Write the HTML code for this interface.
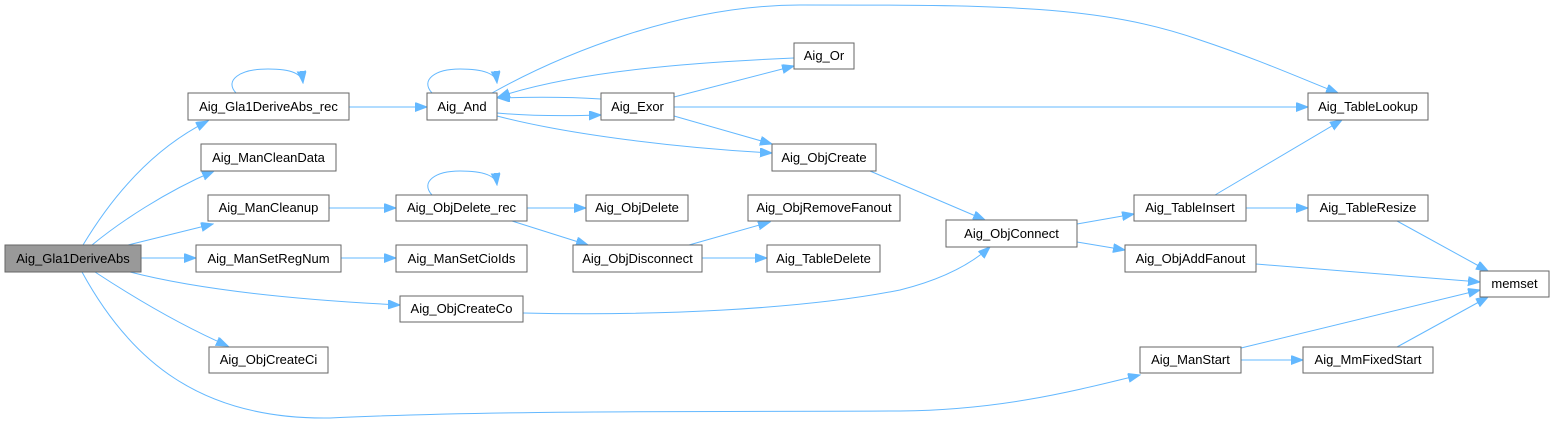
<!DOCTYPE html>
<html><head><meta charset="utf-8"><style>
html,body{margin:0;padding:0;background:#fff;}
svg{display:block;}
text{font-family:"Liberation Sans",Arial,sans-serif;font-size:13px;fill:#000;}
rect{fill:#fff;stroke:#666;stroke-width:1;}
path{fill:none;stroke:#63b8ff;stroke-width:1;}
</style></head><body>
<svg width="1555" height="424" viewBox="0 0 1555 424" xmlns="http://www.w3.org/2000/svg">
<defs>
<marker id="a" markerUnits="userSpaceOnUse" markerWidth="13" markerHeight="11" refX="12" refY="4.5" orient="auto">
<path d="M0,0 L12,4.5 L0,9 Z" style="fill:#63b8ff;stroke:#63b8ff"/>
</marker>
</defs>
<g marker-end="url(#a)">
<path d="M83,245 C110,200 150,150 208,121"/>
<path d="M92,245 C120,222 165,192 214,171"/>
<path d="M128,245 L213,224"/>
<path d="M141,258 L196,258"/>
<path d="M130,272 C200,290 300,300 400,305"/>
<path d="M95,272 C130,295 180,325 228,346"/>
<path d="M82,272 C130,360 200,420 330,418 C500,410 700,412 900,411 C1000,410 1070,392 1140,375"/>
<path d="M236,93 C224,80 240,69 268,69 C292,69 302,74 303,83"/>
<path d="M349,107 L427,107"/>
<path d="M432,93 C420,80 435,69 460,69 C485,69 496,74 497,83"/>
<path d="M432,195 C420,182 435,171 460,171 C485,171 496,176 497,185"/>
<path d="M329,208 L396,208"/>
<path d="M341,258 L396,258"/>
<path d="M492,93 C560,55 680,5 800,5 C1000,5 1100,5 1200,40 C1260,60 1300,78 1338,93"/>
<path d="M794,58 C700,62 580,70 498,97"/>
<path d="M601,99 C570,97 530,97 498,98"/>
<path d="M497,113 C530,116 570,116 601,115"/>
<path d="M674,97 L794,66"/>
<path d="M674,107 L1308,107"/>
<path d="M674,116 L772,144"/>
<path d="M497,116 C570,135 680,148 772,153"/>
<path d="M870,171 L985,220"/>
<path d="M527,208 L586,208"/>
<path d="M512,221 L588,245"/>
<path d="M689,245 L770,222"/>
<path d="M702,258 L767,258"/>
<path d="M523,313 C650,316 800,310 900,290 C940,280 970,265 990,247"/>
<path d="M1077,224 L1134,214"/>
<path d="M1077,242 L1125,250"/>
<path d="M1215,195 L1342,120"/>
<path d="M1246,208 L1308,208"/>
<path d="M1397,221 L1488,271"/>
<path d="M1256,264 L1480,282"/>
<path d="M1241,348 L1480,290"/>
<path d="M1241,360 L1303,360"/>
<path d="M1397,347 L1488,297"/>
</g>
<g text-anchor="middle">
<rect x="5" y="245" width="136" height="27" style="fill:#999"/><text x="73" y="263">Aig_Gla1DeriveAbs</text>
<rect x="188" y="93" width="161" height="27"/><text x="268.5" y="111">Aig_Gla1DeriveAbs_rec</text>
<rect x="201" y="144" width="135" height="27"/><text x="268.5" y="162">Aig_ManCleanData</text>
<rect x="208" y="195" width="121" height="26"/><text x="268.5" y="212">Aig_ManCleanup</text>
<rect x="196" y="245" width="145" height="27"/><text x="268.5" y="263">Aig_ManSetRegNum</text>
<rect x="209" y="347" width="119" height="26"/><text x="268.5" y="364">Aig_ObjCreateCi</text>
<rect x="427" y="93" width="70" height="27"/><text x="462" y="111">Aig_And</text>
<rect x="396" y="195" width="131" height="26"/><text x="461.5" y="212">Aig_ObjDelete_rec</text>
<rect x="396" y="245" width="131" height="27"/><text x="461.5" y="263">Aig_ManSetCioIds</text>
<rect x="400" y="296" width="123" height="26"/><text x="461.5" y="313">Aig_ObjCreateCo</text>
<rect x="794" y="43" width="60" height="26"/><text x="824" y="60">Aig_Or</text>
<rect x="601" y="93" width="73" height="27"/><text x="637.5" y="111">Aig_Exor</text>
<rect x="772" y="144" width="104" height="27"/><text x="824" y="162">Aig_ObjCreate</text>
<rect x="586" y="195" width="102" height="26"/><text x="637" y="212">Aig_ObjDelete</text>
<rect x="748" y="195" width="152" height="26"/><text x="824" y="212">Aig_ObjRemoveFanout</text>
<rect x="573" y="245" width="129" height="27"/><text x="637.5" y="263">Aig_ObjDisconnect</text>
<rect x="767" y="245" width="113" height="27"/><text x="823.5" y="263">Aig_TableDelete</text>
<rect x="946" y="220" width="131" height="27"/><text x="1011.5" y="238">Aig_ObjConnect</text>
<rect x="1308" y="93" width="120" height="27"/><text x="1368" y="111">Aig_TableLookup</text>
<rect x="1134" y="195" width="112" height="26"/><text x="1190" y="212">Aig_TableInsert</text>
<rect x="1308" y="195" width="120" height="26"/><text x="1368" y="212">Aig_TableResize</text>
<rect x="1125" y="245" width="131" height="27"/><text x="1190.5" y="263">Aig_ObjAddFanout</text>
<rect x="1480" y="271" width="69" height="26"/><text x="1514.5" y="288">memset</text>
<rect x="1140" y="347" width="101" height="26"/><text x="1190.5" y="364">Aig_ManStart</text>
<rect x="1303" y="347" width="130" height="26"/><text x="1368" y="364">Aig_MmFixedStart</text>
</g>
</svg>
</body></html>
